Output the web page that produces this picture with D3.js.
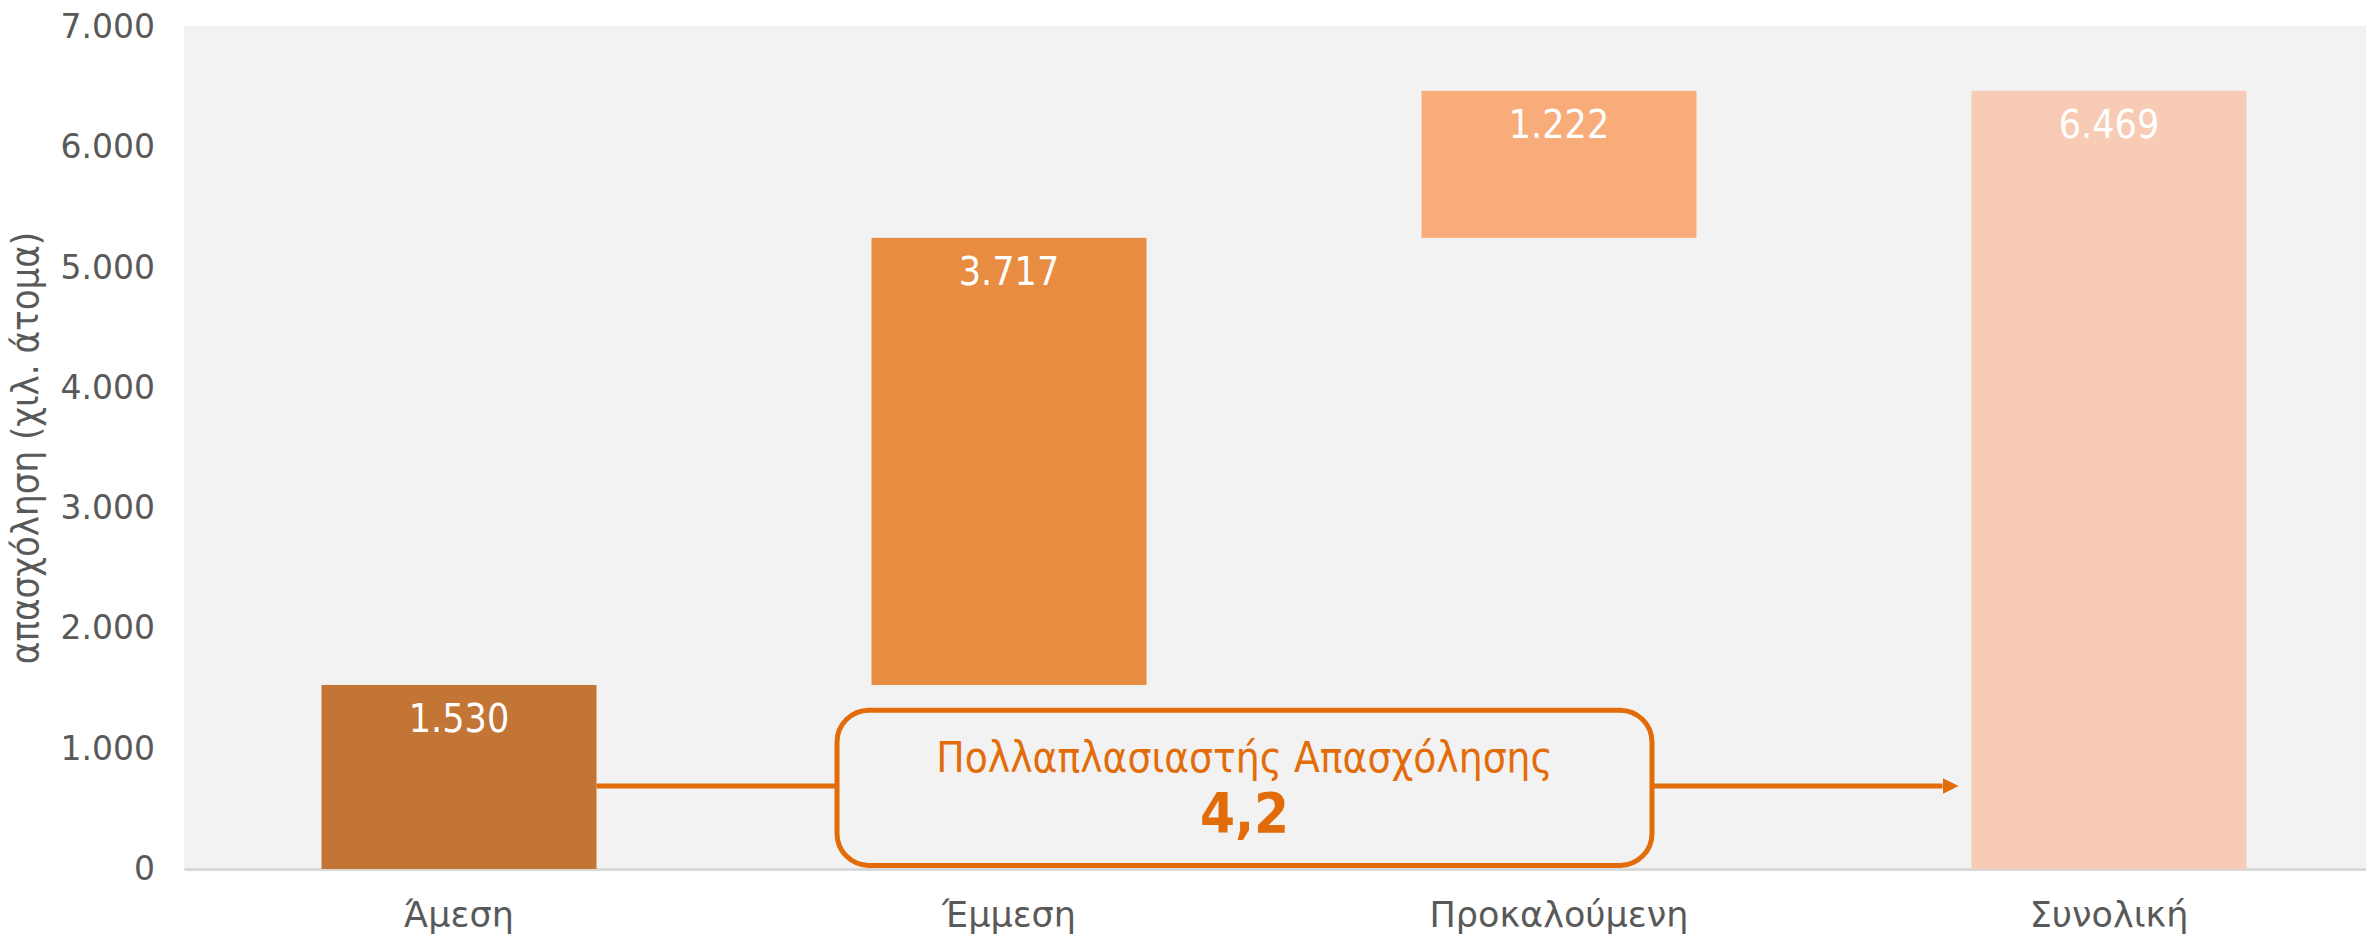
<!DOCTYPE html>
<html>
<head>
<meta charset="utf-8">
<script src="https://cdn.jsdelivr.net/npm/d3@7"></script>
<style>
  body { margin: 0; background: #fff; overflow: hidden; }
  svg { display: block; }
</style>
</head>
<body>
<svg id="chart"></svg>
<script>
// waterfall data
const categories = ["Άμεση", "Έμμεση", "Προκαλούμενη", "Συνολική"];
const values = [1530, 3717, 1222, 6469];
const isTotal = [false, false, false, true];
const barColors = ["#C37535", "#E88C42", "#F8AC7A", "#F8CBB4"];
const yTicks = [0, 1000, 2000, 3000, 4000, 5000, 6000, 7000];
const yTitle = "απασχόληση (χιλ. άτομα)";
const multiplierLabel = "Πολλαπλασιαστής Απασχόλησης";
const multiplierValue = "4,2";

const W = 2366, H = 935;
const margin = { top: 27, right: -18, bottom: 66, left: 184 };
const innerW = W - margin.left - margin.right;
const innerH = H - margin.top - margin.bottom;

const narrow = "'Liberation Sans Narrow', 'DejaVu Sans Condensed', sans-serif";
const orange = "#E36C0A";

const locale = d3.formatLocale({ decimal: ",", thousands: ".", grouping: [3], currency: ["", "€"] });
const fmt = locale.format(",d");

// build start / end for each step
let running = 0;
const data = categories.map((c, i) => {
  let start, end;
  if (isTotal[i]) { start = 0; end = values[i]; }
  else { start = running; end = running + values[i]; running = end; }
  return { cat: c, value: values[i], start, end, color: barColors[i] };
});

const svg = d3.select("#chart").attr("width", W).attr("height", H);

const x = d3.scaleBand().domain(categories).range([0, innerW]).paddingInner(0.5).paddingOuter(0.25);
const y = d3.scaleLinear().domain([0, 7000]).range([innerH, 0]);

const g = svg.append("g").attr("transform", `translate(${margin.left},${margin.top})`);

// plot background
g.append("rect")
  .attr("x", 0).attr("y", -1)
  .attr("width", innerW).attr("height", innerH + 1)
  .attr("fill", "#F2F2F2");

// y axis
const yAxis = d3.axisLeft(y).tickValues(yTicks).tickFormat(fmt).tickSize(0).tickPadding(29);
g.append("g").call(yAxis)
  .call(a => a.select(".domain").remove())
  .selectAll("text")
  .attr("font-family", "'DejaVu Sans', sans-serif")
  .attr("font-size", 33)
  .attr("fill", "#595959");

// x axis
const xAxis = d3.axisBottom(x).tickSize(0).tickPadding(33);
g.append("g").attr("transform", `translate(0,${innerH})`).call(xAxis)
  .call(a => a.select(".domain").attr("stroke", "#D9D9D9").attr("stroke-width", 3))
  .selectAll("text")
  .attr("font-family", "'DejaVu Sans', sans-serif")
  .attr("font-size", 35)
  .attr("fill", "#595959");

// bars
g.selectAll(".bar").data(data).join("rect")
  .attr("class", "bar")
  .attr("x", d => x(d.cat))
  .attr("width", x.bandwidth())
  .attr("y", d => y(d.end))
  .attr("height", d => y(d.start) - y(d.end))
  .attr("fill", d => d.color);

// value labels
g.selectAll(".val").data(data).join("text")
  .attr("class", "val")
  .attr("x", d => x(d.cat) + x.bandwidth() / 2)
  .attr("y", d => y(d.end) + 47)
  .attr("text-anchor", "middle")
  .attr("font-family", narrow)
  .attr("font-size", 39)
  .attr("fill", "#fff")
  .text(d => fmt(d.value));

// y title
svg.append("text")
  .attr("transform", `translate(38,${margin.top + innerH / 2}) rotate(-90)`)
  .attr("text-anchor", "middle")
  .attr("font-family", narrow)
  .attr("font-size", 38)
  .attr("fill", "#595959")
  .text(yTitle);

// multiplier annotation: arrow from first bar to total bar
const arrowY = y(690);
const box = { x0: 653, x1: 1468, y0: y(1320), y1: y(30) };
svg.append("defs").append("marker")
  .attr("id", "arrow")
  .attr("viewBox", "0 0 10 10")
  .attr("refX", 0).attr("refY", 5)
  .attr("markerWidth", 3.2).attr("markerHeight", 3.2)
  .attr("orient", "auto")
  .append("path").attr("d", "M0,0 L10,5 L0,10 Z").attr("fill", orange);

const x0Bar = x(categories[0]) + x.bandwidth();
const xTot = x(categories[3]) - 15;

g.append("line")
  .attr("x1", x0Bar).attr("x2", box.x0)
  .attr("y1", arrowY).attr("y2", arrowY)
  .attr("stroke", orange).attr("stroke-width", 5);

g.append("line")
  .attr("x1", box.x1).attr("x2", xTot - 14)
  .attr("y1", arrowY).attr("y2", arrowY)
  .attr("stroke", orange).attr("stroke-width", 5)
  .attr("marker-end", "url(#arrow)");

g.append("rect")
  .attr("x", box.x0).attr("y", box.y0)
  .attr("width", box.x1 - box.x0).attr("height", box.y1 - box.y0)
  .attr("rx", 32).attr("ry", 32)
  .attr("fill", "#F2F2F2")
  .attr("stroke", orange).attr("stroke-width", 5);

g.append("text")
  .attr("x", (box.x0 + box.x1) / 2).attr("y", box.y0 + 62)
  .attr("text-anchor", "middle")
  .attr("font-family", narrow)
  .attr("font-size", 42)
  .attr("fill", orange)
  .text(multiplierLabel);

g.append("text")
  .attr("x", (box.x0 + box.x1) / 2).attr("y", box.y0 + 122)
  .attr("text-anchor", "middle")
  .attr("font-family", narrow)
  .attr("font-weight", "bold")
  .attr("font-size", 56)
  .attr("fill", orange)
  .text(multiplierValue);
</script>
</body>
</html>
